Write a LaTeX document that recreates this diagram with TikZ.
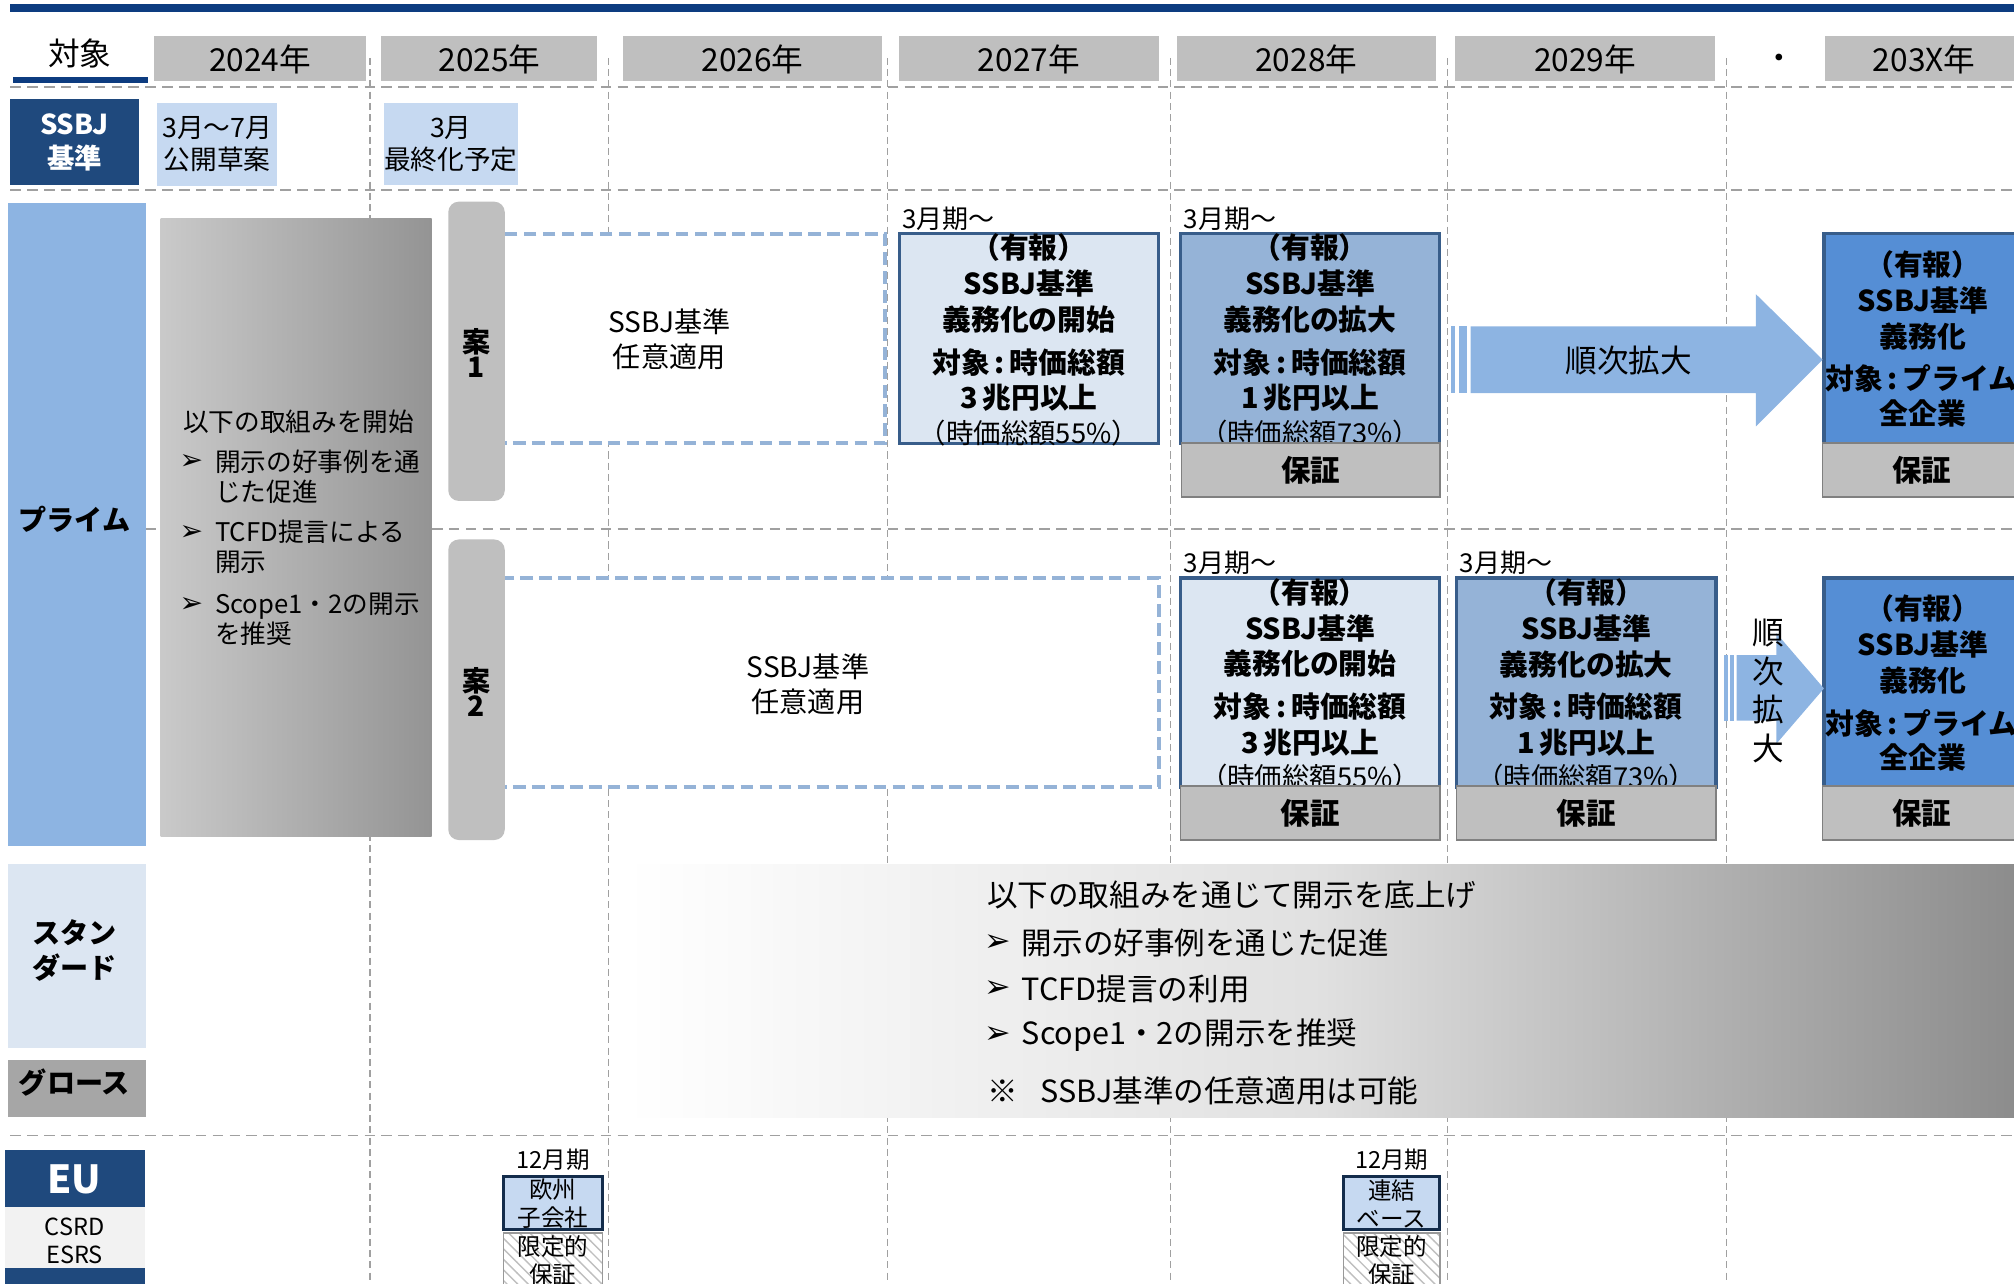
\documentclass[tikz,border=0pt]{standalone}
\usepackage{fontspec}
\setmainfont{Noto Sans CJK JP}
\newfontfamily\dingfont{DejaVu Sans}
\usepackage{tikz}
\usetikzlibrary{
    calc,
    patterns
}
\definecolor{topnavy}{HTML}{0D3C80}
\definecolor{navy}{HTML}{1F497D}
\definecolor{paleblue}{HTML}{C6D9F1}
\definecolor{primeblue}{HTML}{8DB4E2}
\definecolor{lvone}{HTML}{DCE6F2}
\definecolor{lvtwo}{HTML}{95B3D7}
\definecolor{lvthree}{HTML}{558ED5}
\definecolor{boxedge}{HTML}{385D8A}
\definecolor{headgray}{HTML}{BFBFBF}
\definecolor{gridgray}{HTML}{A0A0A0}

\begin{document}
\begin{tikzpicture}[
        x=0.12844mm, y=-0.12844mm,
        txt/.style={inner sep=0pt, align=center},
        year text/.style={txt, font=\fontsize{9}{11}\selectfont},
        white label/.style={txt, text=white, font=\bfseries\fontsize{7.8}{9.5}\selectfont},
        small text/.style={txt, font=\fontsize{7.6}{9.1}\selectfont},
        row label/.style={txt, font=\bfseries\fontsize{8}{9.9}\selectfont},
        grad text/.style={txt, align=left, font=\fontsize{7.3}{8.5}\selectfont},
        pill text/.style={txt, font=\bfseries\fontsize{8}{7.2}\selectfont},
        opt text/.style={txt, font=\fontsize{8}{9.9}\selectfont},
        period text/.style={txt, font=\fontsize{7.4}{9}\selectfont},
        mand text/.style={txt, font=\bfseries\fontsize{8.2}{10}\selectfont},
        pct text/.style={txt, font=\fontsize{7.8}{9}\selectfont},
        assure text/.style={txt, font=\bfseries\fontsize{8.4}{10}\selectfont},
        expand text/.style={txt, font=\fontsize{9}{11}\selectfont},
        base text/.style={txt, align=left, font=\fontsize{8.7}{10}\selectfont},
        tiny text/.style={txt, font=\fontsize{6.7}{8}\selectfont},
        eu text/.style={txt, text=white, font=\bfseries\fontsize{11}{13}\selectfont},
        grid line/.style={draw=gridgray, line width=0.55pt, dash pattern=on 3pt off 1.8pt},
        col line/.style={draw=gridgray, line width=0.35pt, dash pattern=on 2pt off 1.2pt},
        pill/.style={fill=headgray, rounded corners=3pt},
        opt area/.style={draw=lvtwo, fill=white, line width=1.1pt, dash pattern=on 3.6pt off 1.8pt},
        mandate/.style={draw=boxedge, line width=0.9pt},
        assure/.style={fill=headgray, draw=black!50, line width=0.4pt},
        sub box/.style={fill=paleblue, draw=navy!60!black, line width=0.9pt},
        limited/.style={pattern=north west lines, pattern color=black!25, draw=black!40, line width=0.4pt}
    ]
    \useasboundingbox (0,0) rectangle (1568,999);
    \clip (0,0) rectangle (1568,999);

    % header
    \fill[topnavy] (8,3) rectangle (1568,9);
    \node[year text] (target) at (62,42) {対象};
    \fill[topnavy] (10,60) rectangle (115,65);
    \foreach \xa/\xb/\yr in {120/285/2024, 297/465/2025, 485/687/2026, 700/902/2027, 916/1118/2028, 1133/1335/2029, 1421/1575/203X} {
        \path[fill=headgray] (\xa,28) rectangle (\xb,63);
        \node[year text] (y\yr) at ({(\xa+\xb)/2},46) {\yr 年};
    }
    \node[year text] (dots) at (1385,48) {・};

    % grid
    \foreach \y in {68,148,412,884}
        \draw[grid line] (8,\y) -- (1568,\y);
    \foreach \x in {288,474,691,911,1127,1344}
        \draw[col line] (\x,45) -- (\x,999);

    % SSBJ row
    \path[fill=navy] (8,77) rectangle (108,144);
    \node[white label] (ssbjlab) at (58,111) {SSBJ\\基準};
    \path[fill=paleblue] (122,80) rectangle (216,145);
    \node[small text] (draft) at (169,112) {3月～7月\\公開草案};
    \path[fill=paleblue] (299,80) rectangle (403,144);
    \node[small text] (final) at (351,112) {3月\\最終化予定};

    % prime row
    \path[fill=primeblue] (6,158) rectangle (114,659);
    \node[row label] (prime) at (58,404) {プライム};
    \path[left color=black!21, right color=black!42] (125,170) rectangle (336,651);
    \node[grad text, anchor=west] (start) at (142,328) {以下の取組みを開始};
    \foreach \y/\txt [count=\i] in {371/開示の好事例を通\\じた促進, 426/TCFD提言による\\開示, 482/Scope1・2の開示\\を推奨} {
        \node[txt, font=\dingfont\fontsize{8}{9}\selectfont] (arr\i) at (149,\y-11) {➢};
        \node[grad text, anchor=west] (item\i) at (167,\y) {\txt};
    }

    \path[opt area] (385,182) rectangle (689,345);
    \node[opt text] (opt1) at (521,264) {SSBJ基準\\任意適用};
    \path[opt area] (385,450) rectangle (902,613);
    \node[opt text] (opt2) at (629,533) {SSBJ基準\\任意適用};

    \path[pill] (349,157) rectangle (393,390);
    \node[pill text] (plan1) at (371,275) {案\\1};
    \path[pill] (349,420) rectangle (393,654);
    \node[pill text] (plan2) at (371,539) {案\\2};

    \foreach \cx/\yt/\fc/\act/\amt/\pct/\nm in {801/182/lvone/開始/3/55/a, 1020/182/lvtwo/拡大/1/73/b, 1020/450/lvone/開始/3/55/c, 1235/450/lvtwo/拡大/1/73/d} {
        \node[period text, anchor=west] (per\nm) at (\cx-99,\yt-12) {3月期～};
        \path[mandate, fill=\fc] (\cx-101,\yt) rectangle (\cx+101,\yt+163);
        \node[mand text] (yh\nm) at (\cx,\yt+11) {（有報）};
        \node[mand text] (ss\nm) at (\cx,\yt+39) {SSBJ基準};
        \node[mand text] (gm\nm) at (\cx,\yt+67) {義務化の\act};
        \node[mand text] (tg\nm) at (\cx,\yt+100) {対象\,:\,時価総額};
        \node[mand text] (am\nm) at (\cx,\yt+128) {\amt\,兆円以上};
        \node[pct text] (pc\nm) at (\cx,\yt+155) {（時価総額\pct\%）};
    }
    \foreach \yt/\nm in {182/e, 450/f} {
        \path[mandate, fill=lvthree] (1420,\yt) rectangle (1580,\yt+163);
        \node[mand text] (yh\nm) at (1497,\yt+24) {（有報）};
        \node[mand text] (ss\nm) at (1497,\yt+52) {SSBJ基準};
        \node[mand text] (gm\nm) at (1497,\yt+80) {義務化};
        \node[mand text] (tg\nm) at (1496,\yt+113) {対象\,:\,プライム};
        \node[mand text] (am\nm) at (1497,\yt+140) {全企業};
    }
    \foreach \xa/\xb/\yt/\nm in {920/1121/345/b, 919/1121/612/c, 1134/1336/612/d, 1419/1580/345/e, 1419/1580/612/f} {
        \path[assure] (\xa,\yt) rectangle (\xb,\yt+42);
        \node[assure text] (hs\nm) at ({min((\xa+\xb)/2,1496)},\yt+21) {保証};
    }

    % expansion arrows
    \foreach \xa/\xb in {1130/1133, 1136/1142}
        \fill[primeblue] (\xa,254) rectangle (\xb,306);
    \fill[primeblue] (1145,254) -- (1367,254) -- (1367,229) -- (1419,280) -- (1367,332) -- (1367,306) -- (1145,306) -- cycle;
    \node[expand text] (expand1) at (1268,281) {順次拡大};
    \foreach \xa/\xb in {1342/1345, 1347/1350}
        \fill[primeblue] (\xa,510) rectangle (\xb,561);
    \fill[primeblue] (1352,510) -- (1383,510) -- (1383,493) -- (1420,536) -- (1383,579) -- (1383,561) -- (1352,561) -- cycle;
    \node[expand text] (expand2) at (1377,538) {順\\次\\拡\\大};

    % standard / growth
    \path[fill=lvone] (6,673) rectangle (114,816);
    \node[row label] (standard) at (58,740) {スタン\\ダード};
    \path[fill=black!35] (6,825) rectangle (114,870);
    \node[row label] (growth) at (58,843) {グロース};
    \path[left color=white, right color=black!45, middle color=black!12] (487,673) rectangle (1568,870);
    \node[base text, anchor=west] (raise) at (768,697) {以下の取組みを通じて開示を底上げ};
    \foreach \y/\txt [count=\i] in {734/開示の好事例を通じた促進, 770/TCFD提言の利用, 806/Scope1・2の開示を推奨} {
        \node[txt, font=\dingfont\fontsize{9}{10}\selectfont] (barr\i) at (777,\y) {➢};
        \node[base text, anchor=west] (bitem\i) at (795,\y) {\txt};
    }
    \node[base text, anchor=west] (note) at (768,849) {※\hspace{0.75em}SSBJ基準の任意適用は可能};

    % EU row
    \path[fill=navy] (4,895) rectangle (113,940);
    \node[eu text] (eu) at (58,918) {EU};
    \path[fill=black!5] (4,940) rectangle (113,987);
    \node[tiny text] (csrd) at (58,966) {CSRD\\ESRS};
    \path[fill=navy] (4,987) rectangle (113,1005);
    \foreach \xa/\xb/\ua/\ub/\nm in {392/469/欧州/子会社/sub, 1046/1121/連結/ベース/con} {
        \node[tiny text] (m\nm) at ({(\xa+\xb)/2},903) {12月期};
        \path[sub box] (\xa,916) rectangle (\xb,957);
        \node[tiny text] (s\nm) at ({(\xa+\xb)/2},937) {\ua\\\ub};
        \path[limited] (\xa,960) rectangle (\xb,1010);
        \node[tiny text] (l\nm) at ({(\xa+\xb)/2},981) {限定的\\保証};
    }
\end{tikzpicture}
\end{document}
